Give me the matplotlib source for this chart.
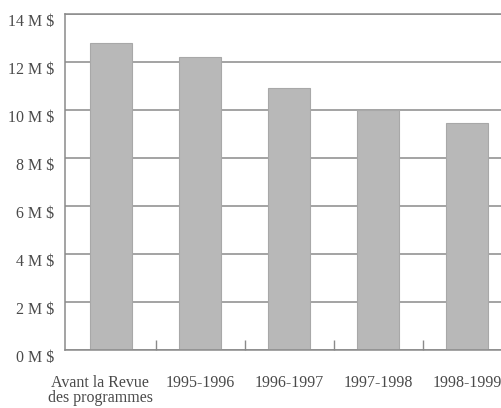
import numpy as np
import matplotlib.pyplot as plt
import matplotlib.transforms as mtransforms

plt.rcParams['font.family'] = ['Liberation Serif', 'DejaVu Serif']

periodes = ['Avant la Revue\ndes programmes', '1995-1996', '1996-1997',
            '1997-1998', '1998-1999']
montants = [12.8, 12.2, 10.9, 10.0, 9.45]   # millions de dollars
graduations = [0, 2, 4, 6, 8, 10, 12, 14]

gris_trait = '#8a8a8a'
gris_texte = '#4a4a4a'

fig = plt.figure(figsize=(5.02, 4.08), dpi=100)
ax = fig.add_axes([65 / 502, 58 / 408, 437 / 502, 336 / 408])

x = np.arange(len(periodes))
ax.bar(x, montants, width=0.47, color='#b8b8b8', edgecolor='#a8a8a8',
       linewidth=0.8, zorder=2)

ax.set_xlim(-0.52, 4.39)
ax.set_ylim(0, 14)
ax.set_yticks(graduations)
ax.set_yticklabels(['%d M $' % v for v in graduations])
ax.set_xticks(x)
ax.set_xticklabels(periodes)
ax.set_xticks(x[:-1] + 0.5, minor=True)

ax.grid(axis='y', color=gris_trait, linewidth=1.1, zorder=1)
ax.tick_params(axis='y', length=0, pad=8, labelsize=11.5, labelcolor=gris_texte)
ax.tick_params(axis='x', which='major', length=0, pad=18, labelsize=11.5,
               labelcolor=gris_texte)
ax.tick_params(axis='x', which='minor', direction='in', length=7,
               width=1, color=gris_trait)

for cote in ['left', 'bottom', 'top']:
    ax.spines[cote].set_color(gris_trait)
    ax.spines[cote].set_linewidth(1.1)
ax.spines['right'].set_visible(False)

# étiquettes de l'axe y légèrement sous leurs lignes
decal_y = mtransforms.ScaledTranslation(0, -6 / 100, fig.dpi_scale_trans)
for lab in ax.get_yticklabels():
    lab.set_transform(lab.get_transform() + decal_y)

# première étiquette décalée vers la gauche
decal_x = mtransforms.ScaledTranslation(-11 / 100, 0, fig.dpi_scale_trans)
premiere = ax.get_xticklabels()[0]
premiere.set_transform(premiere.get_transform() + decal_x)
premiere.set_linespacing(0.95)

fig.savefig('out.png', dpi=100)
